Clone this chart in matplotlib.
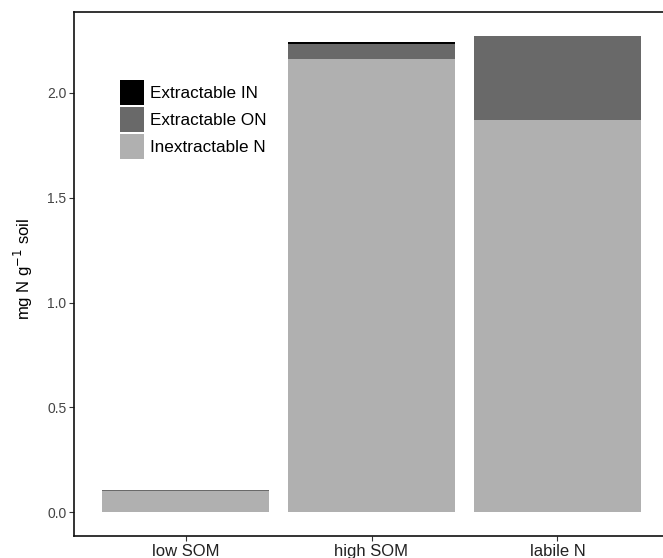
import matplotlib
matplotlib.use("Agg")
import matplotlib.pyplot as plt
from matplotlib.patches import Patch
import numpy as np

plt.rcParams["font.family"] = ["Liberation Sans", "DejaVu Sans"]

# data (mg N g-1 soil)
categories = ["low SOM", "high SOM", "labile N"]
inextractable_n = [0.100, 2.163, 1.871]
extractable_on = [0.005, 0.070, 0.400]
extractable_in = [0.001, 0.008, 0.002]

yticks = [0.0, 0.5, 1.0, 1.5, 2.0]
ytick_labels = ["0.0", "0.5", "1.0", "1.5", "2.0"]

colors = {
    "Extractable IN": "#000000",
    "Extractable ON": "#696969",
    "Inextractable N": "#b0b0b0",
}

fig = plt.figure(figsize=(6.63, 5.58), dpi=100)
ax = fig.add_axes([74 / 663, 22 / 558, 595 / 663, 524 / 558])

x = np.arange(1, len(categories) + 1)
width = 0.9
bottom = np.zeros(len(categories))
for name, vals in [("Inextractable N", inextractable_n),
                   ("Extractable ON", extractable_on),
                   ("Extractable IN", extractable_in)]:
    ax.bar(x, vals, width=width, bottom=bottom, color=colors[name], linewidth=0)
    bottom += np.array(vals)

ax.set_xlim(0.4, 3.6)
ax.set_ylim(-0.114, 2.386)
ax.set_xticks(x)
ax.set_xticklabels(categories, fontsize=12, color="#222222")
ax.set_yticks(yticks)
ax.set_yticklabels(ytick_labels, fontsize=10, color="#444444")
ax.tick_params(axis="both", length=3.5, width=0.8, color="#333333", pad=2)
ax.set_ylabel("mg N g$^{-1}$ soil", fontsize=12)
ax.yaxis.set_label_coords(-0.065, 0.51)

for s in ax.spines.values():
    s.set_linewidth(1.2)
    s.set_color("#111111")

handles = [Patch(facecolor=colors[k], edgecolor="none", label=k)
           for k in ["Extractable IN", "Extractable ON", "Inextractable N"]]
ax.legend(handles=handles, loc="upper left", bbox_to_anchor=(0.065, 0.883),
          frameon=False, fontsize=12.3, handlelength=1.46, handleheight=1.86,
          handletextpad=0.3, labelspacing=0.12, borderaxespad=0)

fig.savefig("out.png", dpi=100)
